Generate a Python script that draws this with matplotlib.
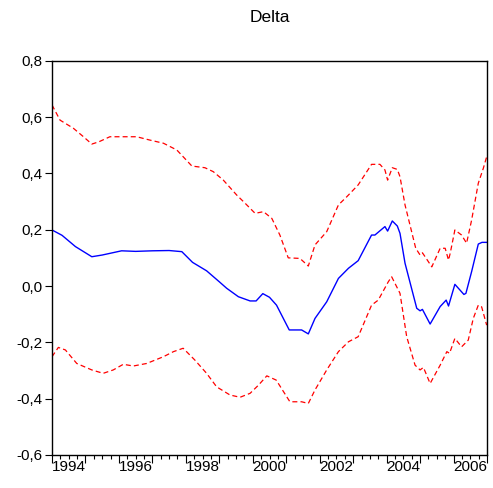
import matplotlib
matplotlib.use("Agg")
import matplotlib.pyplot as plt
from matplotlib.ticker import FixedLocator, FuncFormatter, MultipleLocator

# ---- data ----
center_t = [1994.0, 1994.3, 1994.7, 1995.19, 1995.5, 1996.08, 1996.5, 1997.0, 1997.5, 1997.88,
            1998.2, 1998.62, 1999.0, 1999.22, 1999.57, 1999.92, 2000.1, 2000.3, 2000.5, 2000.71,
            2001.09, 2001.46, 2001.66, 2001.86, 2002.21, 2002.56, 2002.86, 2003.15, 2003.55, 2003.65,
            2003.95, 2004.03, 2004.17, 2004.32, 2004.4, 2004.55, 2004.9, 2005.0, 2005.07, 2005.3,
            2005.6, 2005.78, 2005.85, 2006.04, 2006.31, 2006.37, 2006.54, 2006.74, 2006.85, 2006.99]
center_v = [0.199, 0.180, 0.140, 0.104, 0.110, 0.125, 0.123, 0.125, 0.126, 0.122,
            0.084, 0.054, 0.015, -0.008, -0.038, -0.053, -0.053, -0.027, -0.040, -0.068,
            -0.156, -0.156, -0.170, -0.115, -0.056, 0.027, 0.063, 0.090, 0.181, 0.181,
            0.211, 0.195, 0.231, 0.213, 0.187, 0.081, -0.079, -0.088, -0.083, -0.135,
            -0.073, -0.050, -0.071, 0.006, -0.030, -0.026, 0.051, 0.149, 0.155, 0.155]

upper_t = [1994.0, 1994.24, 1994.64, 1994.94, 1995.19, 1995.4, 1995.73, 1996.53, 1996.93, 1997.33,
           1997.73, 1997.92, 1998.18, 1998.57, 1998.82, 1999.12, 1999.52, 1999.77, 2000.07, 2000.32,
           2000.57, 2000.81, 2001.06, 2001.41, 2001.66, 2001.86, 2002.21, 2002.56, 2002.81, 2003.15,
           2003.55, 2003.80, 2003.95, 2004.03, 2004.17, 2004.32, 2004.4, 2004.55, 2004.87, 2005.0,
           2005.07, 2005.2, 2005.35, 2005.6, 2005.75, 2005.85, 2005.9, 2006.04, 2006.24, 2006.39,
           2006.54, 2006.74, 2006.89, 2006.99]
upper_v = [0.643, 0.589, 0.560, 0.530, 0.504, 0.512, 0.530, 0.530, 0.518, 0.507,
           0.483, 0.459, 0.426, 0.420, 0.406, 0.376, 0.323, 0.294, 0.258, 0.264,
           0.240, 0.181, 0.100, 0.098, 0.071, 0.146, 0.193, 0.288, 0.317, 0.359,
           0.432, 0.432, 0.412, 0.376, 0.420, 0.414, 0.388, 0.288, 0.134, 0.110,
           0.118, 0.095, 0.068, 0.134, 0.134, 0.092, 0.116, 0.199, 0.181, 0.152,
           0.234, 0.365, 0.418, 0.459]

lower_t = [1994.0, 1994.19, 1994.4, 1994.74, 1995.19, 1995.53, 1995.83, 1996.13, 1996.43, 1996.83,
           1997.33, 1997.63, 1997.92, 1998.27, 1998.62, 1998.92, 1999.32, 1999.62, 1999.92, 2000.17,
           2000.42, 2000.70, 2001.11, 2001.46, 2001.66, 2001.86, 2002.21, 2002.56, 2002.86, 2003.15,
           2003.55, 2003.75, 2004.05, 2004.15, 2004.4, 2004.6, 2004.85, 2005.0, 2005.1, 2005.3,
           2005.6, 2005.8, 2005.88, 2006.04, 2006.24, 2006.44, 2006.59, 2006.74, 2006.84, 2006.99]
lower_v = [-0.251, -0.218, -0.227, -0.275, -0.298, -0.310, -0.298, -0.278, -0.284, -0.275,
           -0.251, -0.233, -0.221, -0.263, -0.310, -0.358, -0.387, -0.395, -0.381, -0.352,
           -0.319, -0.334, -0.411, -0.411, -0.417, -0.369, -0.298, -0.233, -0.198, -0.180,
           -0.068, -0.050, 0.015, 0.033, -0.026, -0.180, -0.281, -0.298, -0.289, -0.346,
           -0.281, -0.233, -0.239, -0.186, -0.216, -0.192, -0.115, -0.068, -0.074, -0.139]

year_labels = [1994, 1996, 1998, 2000, 2002, 2004, 2006]
y_ticks = [-0.6, -0.4, -0.2, 0.0, 0.2, 0.4, 0.6, 0.8]
title = "Delta"

# ---- plot ----
plt.rcParams['font.family'] = ['Liberation Sans', 'DejaVu Sans']
fig = plt.figure(figsize=(4.93, 4.88), dpi=100)
ax = fig.add_axes([52/493, 1 - 455/488, (487 - 52)/493, (455 - 60.7)/488])

ax.plot(upper_t, upper_v, color=(1, 0, 0), lw=0.9, dashes=(4, 2.5))
ax.plot(lower_t, lower_v, color=(1, 0, 0), lw=0.9, dashes=(4, 2.5))
ax.plot(center_t, center_v, color=(0, 0, 1), lw=1.0)

ax.set_xlim(1994.0, 2007.0)
ax.set_ylim(-0.6, 0.8)

# y axis
ax.yaxis.set_major_locator(FixedLocator(y_ticks))
ax.yaxis.set_major_formatter(FuncFormatter(lambda v, p: f"{v:.1f}".replace(".", ",").replace("-0,0", "0,0")))
ax.tick_params(axis='y', which='major', direction='out', length=5, width=0.8, labelsize=11,
               right=False, colors='black', pad=2)

# x axis: long ticks at year boundaries, short quarterly ticks, labels centred in years
ax.xaxis.set_major_locator(MultipleLocator(1.0))
ax.xaxis.set_minor_locator(MultipleLocator(0.25))
ax.xaxis.set_major_formatter(FuncFormatter(lambda v, p: ""))
ax.tick_params(axis='x', which='major', direction='out', length=6, width=0.8, top=False)
ax.tick_params(axis='x', which='minor', direction='out', length=3, width=0.8, top=False)
for yr in year_labels:
    ax.text(yr + 0.5, -0.012, str(yr), transform=ax.get_xaxis_transform(),
            ha='center', va='top', fontsize=11)

for s in ax.spines.values():
    s.set_linewidth(1.0)
    s.set_color('black')

fig.text((52 + 487) / 2 / 493, 1 - 18 / 488, title, ha='center', va='center', fontsize=12.5)

fig.savefig("out.png", dpi=100)
